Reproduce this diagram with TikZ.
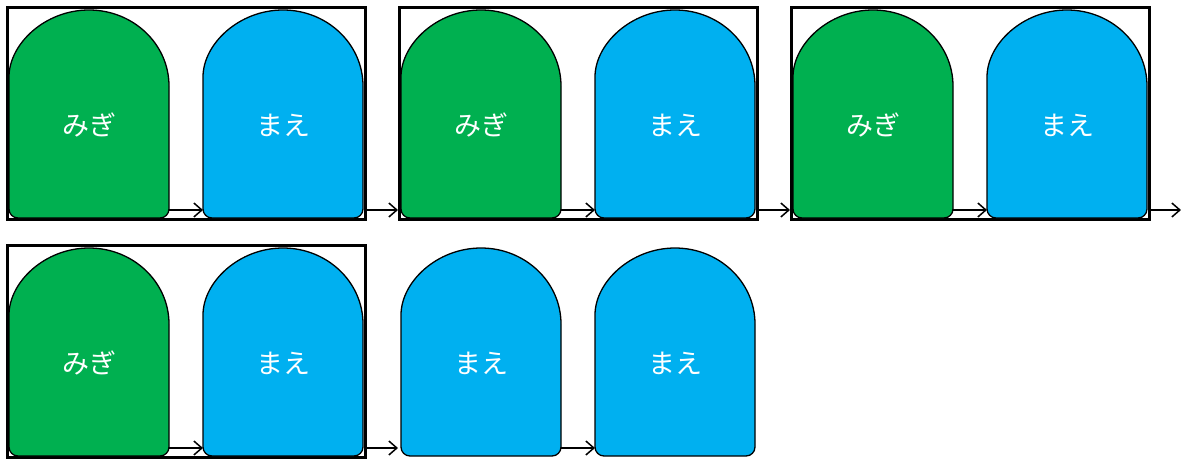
\documentclass[tikz,border=0pt]{standalone}
\usepackage{fontspec}
\newfontfamily\jpfont{Noto Sans CJK JP}
\usetikzlibrary{arrows.meta}
\definecolor{mgreen}{HTML}{00B050}
\definecolor{mblue}{HTML}{00B0F0}
\tikzset{
  frm/.style={draw=black, line width=3pt, minimum width=358pt, minimum height=211.5pt, inner sep=0pt},
  lbl/.style={text=white, font=\jpfont\fontsize{27}{30}\selectfont, inner sep=0pt},
  conn/.style={-{Straight Barb[length=8pt,width=14pt]}, line width=1.5pt},
  shp/.style={draw=black, line width=1.3pt}
}
\newcommand\domeshape[5]{%
  \draw[shp, fill=#4] (#2,#3+76) arc[start angle=180,end angle=0,x radius=80pt,y radius=76pt]
     [rounded corners=9pt] -- (#2+160,#3+208) -- (#2,#3+208) -- cycle;
  \node[lbl] (#1) at (#2+80,#3+115) {#5};
  \coordinate (#1-w) at (#2,#3+200);
  \coordinate (#1-e) at (#2+160,#3+200);
}
\begin{document}
\begin{tikzpicture}[x=1pt,y=-1pt]
\useasboundingbox (0,0) rectangle (1181,459);
% frames
\node[frm] (f1) at (186.5,113.25) {};
\node[frm] (f2) at (578.5,113.25) {};
\node[frm] (f3) at (970.5,113.25) {};
\node[frm] (f4) at (186.5,351.25) {};
% row 1
\domeshape{g1}{9}{10}{mgreen}{みぎ}
\domeshape{b1}{203}{10}{mblue}{まえ}
\domeshape{g2}{401}{10}{mgreen}{みぎ}
\domeshape{b2}{595}{10}{mblue}{まえ}
\domeshape{g3}{793}{10}{mgreen}{みぎ}
\domeshape{b3}{987}{10}{mblue}{まえ}
\coordinate (end1) at (1181,210);
\draw[conn] (g1-e) -- (b1-w);
\draw[conn] ([xshift=2pt]b1-e) -- ([xshift=-3pt]g2-w);
\draw[conn] (g2-e) -- (b2-w);
\draw[conn] ([xshift=2pt]b2-e) -- ([xshift=-3pt]g3-w);
\draw[conn] (g3-e) -- (b3-w);
\draw[conn] ([xshift=2pt]b3-e) -- (end1);
% row 2
\domeshape{g4}{9}{248}{mgreen}{みぎ}
\domeshape{b4}{203}{248}{mblue}{まえ}
\domeshape{b5}{401}{248}{mblue}{まえ}
\domeshape{b6}{595}{248}{mblue}{まえ}
\draw[conn] (g4-e) -- (b4-w);
\draw[conn] ([xshift=2pt]b4-e) -- ([xshift=-3pt]b5-w);
\draw[conn] (b5-e) -- (b6-w);
\end{tikzpicture}
\end{document}
